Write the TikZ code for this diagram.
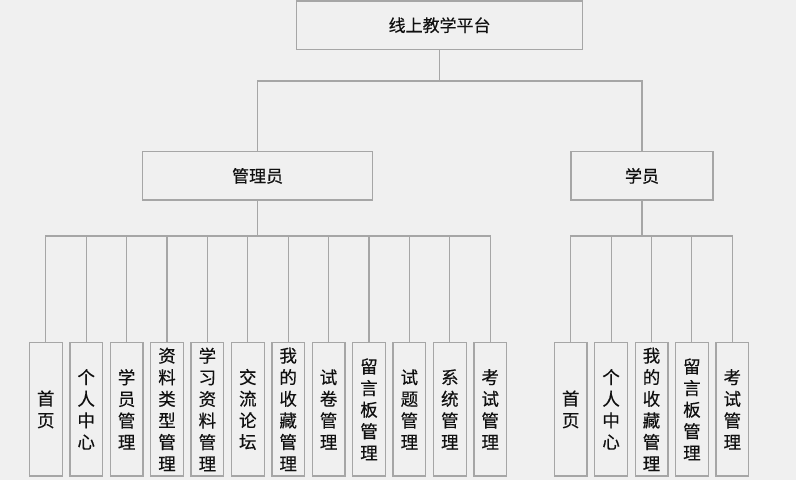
\documentclass[tikz,border=0pt]{standalone}
\usepackage{fontspec}
\setmainfont{Noto Sans CJK SC}[FakeBold=0.35]
\definecolor{bg}{HTML}{F0F0F0}
\definecolor{edge}{HTML}{A6A6A6}
\definecolor{ink}{HTML}{101010}
\tikzset{
  box/.style={draw=edge, line width=1.3pt, fill=bg, inner sep=0pt, text=ink,
    font=\fontsize{17}{20}\selectfont},
  leaf/.style={box, minimum width=32.7pt, minimum height=133.3pt, align=center,
    font=\fontsize{17.5}{21.6}\selectfont},
  link/.style={draw=edge, line width=1.1pt}
}
\begin{document}
\begin{tikzpicture}[x=1pt,y=-1pt]
\path[use as bounding box, fill=bg] (0,0) rectangle (796,480);
\node[box, minimum width=286pt, minimum height=48.3pt] (top) at (439.6,25.2) {线上教学平台};
\node[box, minimum width=229.6pt, minimum height=48.3pt] (adm) at (257.6,175.9) {管理员};
\node[box, minimum width=142pt, minimum height=48.3pt] (stu) at (642,175.9) {学员};
\coordinate (busA) at (439.6,81);
\coordinate (busB) at (257.6,236);
\coordinate (busC) at (642,236);
\draw[link] (top.south) -- (busA);
\draw[link] (busA) -| (adm.north);
\draw[link] (busA) -| (stu.north);
\draw[link] (adm.south) -- (busB);
\draw[link] (stu.south) -- (busC);
\foreach \t [count=\i from 0] in {首\\页, 个\\人\\中\\心, 学\\员\\管\\理, 资\\料\\类\\型\\管\\理, 学\\习\\资\\料\\管\\理, 交\\流\\论\\坛, 我\\的\\收\\藏\\管\\理, 试\\卷\\管\\理, 留\\言\\板\\管\\理, 试\\题\\管\\理, 系\\统\\管\\理, 考\\试\\管\\理}{
  \node[leaf] (a\i) at ({45.8+40.4*\i},409.4) {\t};
  \draw[link] (busB) -| (a\i.north);
}
\foreach \t [count=\j from 0] in {首\\页, 个\\人\\中\\心, 我\\的\\收\\藏\\管\\理, 留\\言\\板\\管\\理, 考\\试\\管\\理}{
  \node[leaf] (s\j) at ({570.7+40.4*\j},409.4) {\t};
  \draw[link] (busC) -| (s\j.north);
}
\end{tikzpicture}
\end{document}
